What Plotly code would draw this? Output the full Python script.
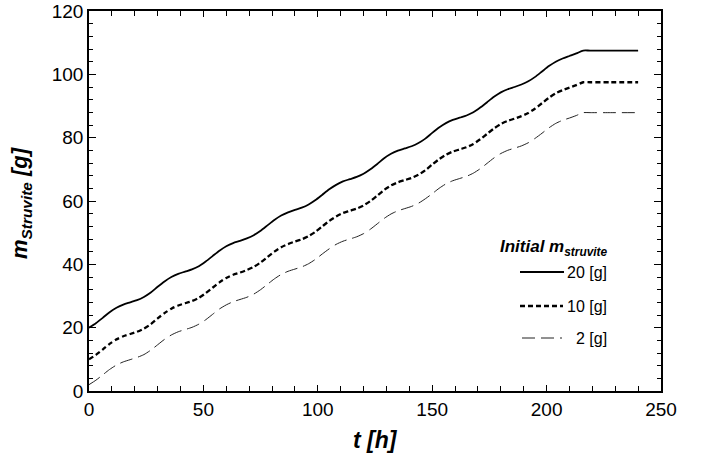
import plotly.graph_objects as go

# time [h]
t_h = [0, 3, 6, 9, 12, 15, 18, 21,
       24, 27, 30, 33, 36, 39, 42, 45,
       48, 51, 54, 57, 60, 63, 66, 69,
       72, 75, 78, 81, 84, 87, 90, 93,
       96, 99, 102, 105, 108, 111, 114, 117,
       120, 123, 126, 129, 132, 135, 138, 141,
       144, 147, 150, 153, 156, 159, 162, 165,
       168, 171, 174, 177, 180, 183, 186, 189,
       192, 195, 198, 201, 204, 207, 210, 213,
       216, 219, 228, 240]

m_20g = [20.0, 21.4, 23.1, 24.9, 26.3, 27.3, 28.0, 28.7,
         29.7, 31.1, 32.9, 34.6, 36.0, 37.0, 37.7, 38.4,
         39.4, 40.9, 42.6, 44.3, 45.7, 46.7, 47.4, 48.2,
         49.2, 50.6, 52.3, 54.0, 55.4, 56.4, 57.2, 57.9,
         58.9, 60.3, 62.0, 63.7, 65.1, 66.2, 66.9, 67.6,
         68.6, 70.0, 71.7, 73.5, 74.9, 75.9, 76.6, 77.3,
         78.3, 79.7, 81.5, 83.2, 84.6, 85.6, 86.3, 87.0,
         88.0, 89.5, 91.2, 92.9, 94.3, 95.3, 96.0, 96.8,
         97.8, 99.2, 100.9, 102.6, 104.0, 105.0, 105.8, 106.6,
         107.5, 107.5, 107.5, 107.5]

m_10g = [10.0, 11.4, 13.1, 14.9, 16.3, 17.3, 18.0, 18.7,
         19.7, 21.1, 22.9, 24.6, 26.0, 27.0, 27.7, 28.4,
         29.4, 30.9, 32.6, 34.3, 35.7, 36.7, 37.4, 38.2,
         39.2, 40.6, 42.3, 44.0, 45.4, 46.4, 47.2, 47.9,
         48.9, 50.3, 52.0, 53.7, 55.1, 56.2, 56.9, 57.6,
         58.6, 60.0, 61.7, 63.5, 64.9, 65.9, 66.6, 67.3,
         68.3, 69.7, 71.5, 73.2, 74.6, 75.6, 76.3, 77.0,
         78.0, 79.5, 81.2, 82.9, 84.3, 85.3, 86.0, 86.8,
         87.8, 89.2, 90.9, 92.6, 94.0, 95.0, 95.8, 96.6,
         97.5, 97.5, 97.5, 97.5]

m_2g = [2.0, 3.4, 5.1, 6.8, 8.2, 9.2, 9.9, 10.6,
        11.5, 12.9, 14.6, 16.3, 17.7, 18.7, 19.4, 20.1,
        21.1, 22.5, 24.2, 25.9, 27.2, 28.2, 28.9, 29.6,
        30.6, 32.0, 33.7, 35.4, 36.8, 37.8, 38.5, 39.2,
        40.2, 41.6, 43.3, 44.9, 46.3, 47.3, 48.0, 48.7,
        49.7, 51.1, 52.8, 54.5, 55.9, 56.9, 57.6, 58.3,
        59.3, 60.7, 62.3, 64.0, 65.4, 66.4, 67.1, 67.8,
        68.8, 70.2, 71.9, 73.6, 75.0, 76.0, 76.7, 77.4,
        78.4, 79.8, 81.4, 83.1, 84.5, 85.5, 86.2, 87.0,
        87.9, 87.9, 87.9, 87.9]

series_labels = ["20 [g]", "10 [g]", "2 [g]"]

W, H = 702, 454
L, R, T, B = 89, 41, 11, 63
PW, PH = W - L - R, H - T - B

def px(x):
    return (x - L) / PW

def py(y):
    return (H - B - y) / PH

FONT = "Liberation Sans, Arial, sans-serif"

styles = [
    dict(color="black", width=1.8, dash="solid"),
    dict(color="black", width=2.3, dash="5px,3px"),
    dict(color="#222", width=1.0, dash="13px,6px"),
]

fig = go.Figure()
for y, lab, st in zip([m_20g, m_10g, m_2g], series_labels, styles):
    fig.add_trace(go.Scatter(x=t_h, y=y, mode="lines", name=lab,
                             line=dict(shape="spline", smoothing=0.7, **st),
                             showlegend=False))

axis_common = dict(showline=True, linecolor="black", linewidth=1.5, mirror="allticks",
                   ticks="inside", tickcolor="black", showgrid=False, zeroline=False,
                   automargin=False,
                   tickfont=dict(family=FONT, size=19, color="black"))

fig.update_xaxes(range=[0, 250], tick0=0, dtick=50, ticklen=6, tickwidth=1,
                 minor=dict(dtick=10, ticks="inside", ticklen=5, tickcolor="black", showgrid=False),
                 **axis_common)
fig.update_yaxes(range=[0, 120], tick0=0, dtick=20, ticklen=7, tickwidth=1,
                 minor=dict(dtick=4, ticks="inside", ticklen=4, tickcolor="black", showgrid=False),
                 **axis_common)

annotations = [
    dict(text="<b><i>t [h]</i></b>", x=0.5, y=py(440), xref="paper", yref="paper",
         showarrow=False, xanchor="center", yanchor="middle",
         font=dict(family=FONT, size=23, color="black")),
    dict(text="<b><i>m<sub>Struvite</sub> [g]</i></b>", x=px(21), y=py(203), xref="paper", yref="paper",
         showarrow=False, xanchor="center", yanchor="middle", textangle=-90,
         font=dict(family=FONT, size=22, color="black")),
    dict(text="<b><i>Initial m<sub>struvite</sub></i></b>", x=px(554), y=py(248), xref="paper", yref="paper",
         showarrow=False, xanchor="center", yanchor="middle",
         font=dict(family=FONT, size=17, color="black")),
]
legend_rows = [272, 306, 338]
for lab, yy in zip(series_labels, legend_rows):
    annotations.append(dict(text=lab, x=px(609), y=py(yy), xref="paper", yref="paper",
                            showarrow=False, xanchor="right", yanchor="middle",
                            font=dict(family=FONT, size=16, color="black")))

shapes = []
seg = [(520, 564), (520, 563), (522, 562)]
for st, yy, (x0, x1) in zip(styles, legend_rows, seg):
    shapes.append(dict(type="line", xref="paper", yref="paper",
                       x0=px(x0), x1=px(x1), y0=py(yy), y1=py(yy),
                       line=dict(color=st["color"], width=st["width"], dash=st["dash"])))

fig.update_layout(width=W, height=H, margin=dict(l=L, r=R, t=T, b=B, autoexpand=False),
                  paper_bgcolor="white", plot_bgcolor="white",
                  annotations=annotations, shapes=shapes, showlegend=False)

fig.write_html("out.html")
